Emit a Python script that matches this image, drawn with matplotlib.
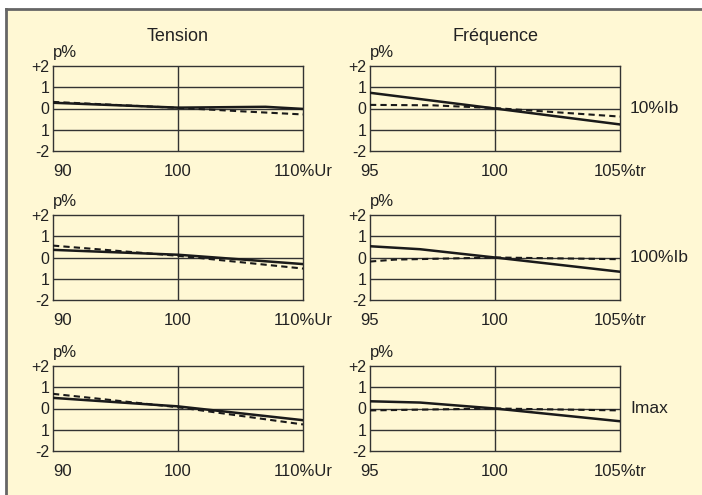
import matplotlib
matplotlib.use("Agg")
import matplotlib.pyplot as plt
from matplotlib.patches import Rectangle
from matplotlib.lines import Line2D

plt.rcParams["font.family"] = ["Liberation Sans", "DejaVu Sans"]

# tension panels (x in % of Ur)
tension_ticks = [90, 100, 110]
tension_ticklabels = ["90", "100", "110%Ur"]
# frequency panels (x in % of rated frequency)
freq_ticks = [95, 100, 105]
freq_ticklabels = ["95", "100", "105%tr"]

y_ticks = [2, 1, 0, -1, -2]
y_ticklabels = ["+2", "1", "0", "1", "-2"]

row_labels = ["10%Ib", "100%Ib", "Imax"]

# 10% Ib
t10_solid_x = [90, 100, 107, 110]
t10_solid_y = [0.27, 0.04, 0.08, -0.02]
t10_dash_x = [90, 100, 105, 110]
t10_dash_y = [0.31, 0.03, -0.13, -0.28]
f10_solid_x = [95, 100, 105]
f10_solid_y = [0.74, 0.0, -0.75]
f10_dash_x = [95, 97.5, 100, 105]
f10_dash_y = [0.17, 0.15, 0.02, -0.38]

# 100% Ib
t100_solid_x = [90, 100, 103, 110]
t100_solid_y = [0.36, 0.13, 0.0, -0.31]
t100_dash_x = [90, 100, 110]
t100_dash_y = [0.56, 0.08, -0.52]
f100_solid_x = [95, 97, 100, 105]
f100_solid_y = [0.53, 0.39, 0.0, -0.67]
f100_dash_x = [95, 96, 100, 105]
f100_dash_y = [-0.19, -0.1, 0.0, -0.08]

# Imax
tmax_solid_x = [90, 100, 110]
tmax_solid_y = [0.5, 0.1, -0.55]
tmax_dash_x = [90, 100, 110]
tmax_dash_y = [0.69, 0.06, -0.75]
fmax_solid_x = [95, 97, 100, 105]
fmax_solid_y = [0.34, 0.28, 0.0, -0.6]
fmax_dash_x = [95, 100, 105]
fmax_dash_y = [-0.09, 0.0, -0.09]

panels = [
	[(t10_solid_x, t10_solid_y, t10_dash_x, t10_dash_y), (f10_solid_x, f10_solid_y, f10_dash_x, f10_dash_y)],
	[(t100_solid_x, t100_solid_y, t100_dash_x, t100_dash_y), (f100_solid_x, f100_solid_y, f100_dash_x, f100_dash_y)],
	[(tmax_solid_x, tmax_solid_y, tmax_dash_x, tmax_dash_y), (fmax_solid_x, fmax_solid_y, fmax_dash_x, fmax_dash_y)],
]

BG = "#FFF8D4"
INK = "#1a1a1a"
W, H = 702, 495

fig = plt.figure(figsize=(W / 100, H / 100), dpi=100, facecolor="white")

# yellow card with grey top/left border, kept behind the axes
fig.add_artist(Rectangle((6 / W, 0), 1, 1 - 9 / H, transform=fig.transFigure,
	facecolor=BG, edgecolor="none", zorder=-10))
fig.add_artist(Line2D([5.5 / W, 1], [1 - 8.5 / H, 1 - 8.5 / H], transform=fig.transFigure,
	color="#666666", lw=2, zorder=-9))
fig.add_artist(Line2D([5.5 / W, 5.5 / W], [0, 1 - 8.5 / H], transform=fig.transFigure,
	color="#666666", lw=2, zorder=-9))

col_left = [53, 370]
row_top = [66, 215, 366]
ax_w, ax_h = 250, 85

for r, row in enumerate(panels):
	for c, (sx, sy, dx, dy) in enumerate(row):
		ax = fig.add_axes([col_left[c] / W, 1 - (row_top[r] + ax_h) / H, ax_w / W, ax_h / H])
		ax.set_facecolor(BG)
		ticks = tension_ticks if c == 0 else freq_ticks
		labels = tension_ticklabels if c == 0 else freq_ticklabels
		ax.set_xlim(ticks[0], ticks[-1])
		ax.set_ylim(-2, 2)

		for yv in [1, 0, -1]:
			ax.axhline(yv, color="#333333", lw=1, zorder=1)
		ax.axvline(ticks[1], color="#333333", lw=1, zorder=1)

		ax.plot(sx, sy, color=INK, lw=1.8, zorder=3)
		ax.plot(dx, dy, color=INK, lw=1.5, dashes=(3, 2), zorder=3)

		ax.set_xticks(ticks)
		ax.set_xticklabels(labels, fontsize=12, color="#222222")
		ax.get_xticklabels()[0].set_ha("left" if c == 0 else "center")
		ax.set_yticks(y_ticks)
		ax.set_yticklabels(y_ticklabels, fontsize=11.5, color="#222222")
		ax.tick_params(axis="x", length=0, pad=9.5)
		ax.tick_params(axis="y", length=0, pad=2.5)
		for sp in ax.spines.values():
			sp.set_color("#333333")
			sp.set_linewidth(1)

		ax.text(0.0, 1.07, "p%", transform=ax.transAxes, ha="left", va="bottom", fontsize=12, color="#222222")
		if r == 0:
			ax.set_title("Tension" if c == 0 else "Fréquence", fontsize=13, color="#222222", pad=18)
		if c == 1:
			ax.text(1.04, 0, row_labels[r], transform=ax.get_yaxis_transform(), ha="left", va="center",
				fontsize=12.5, color="#222222")

fig.savefig("out.png", dpi=100, facecolor="white")
